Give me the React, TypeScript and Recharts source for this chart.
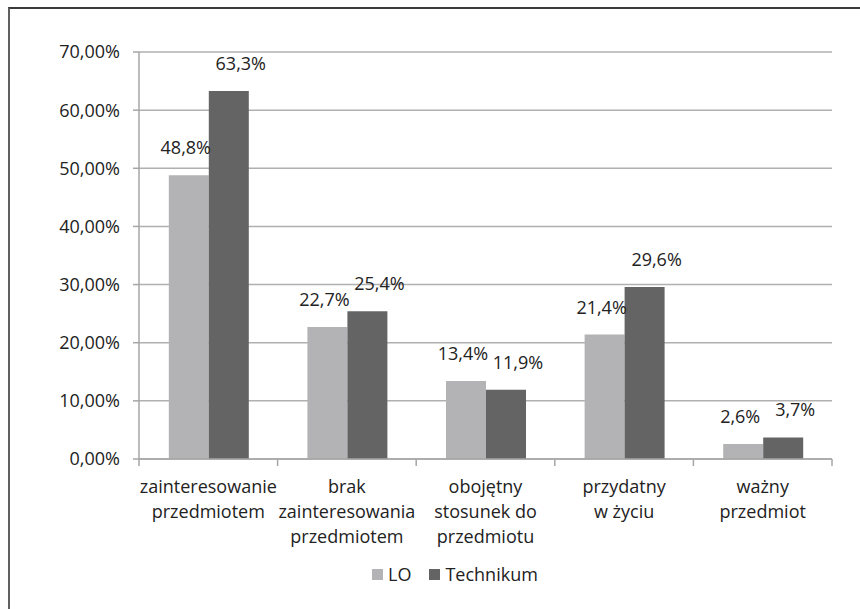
import React from 'react';
import { BarChart, Bar, XAxis, YAxis, CartesianGrid, LabelList, Legend } from 'recharts';

const categories = [
  'zainteresowanie\nprzedmiotem',
  'brak\nzainteresowania\nprzedmiotem',
  'obojętny\nstosunek do\nprzedmiotu',
  'przydatny\nw życiu',
  'ważny\nprzedmiot',
];
const loValues = [48.8, 22.7, 13.4, 21.4, 2.6];
const techValues = [63.3, 25.4, 11.9, 29.6, 3.7];
const seriesNames = ['LO', 'Technikum'];
const yTicks = [0, 10, 20, 30, 40, 50, 60, 70];

const data = categories.map((c, i) => ({
  category: c,
  [seriesNames[0]]: loValues[i],
  [seriesNames[1]]: techValues[i],
}));

const FONT = '"Open Sans", sans-serif';
const TEXT = '#222222';
const AXIS = '#a6a6a6';
const COLORS = ['#b3b3b5', '#646464'];

const fmtTick = (v: number) => v.toFixed(2).replace('.', ',') + '%';
const fmtVal = (v: number) => v.toFixed(1).replace('.', ',') + '%';

const CategoryTick = (props: any) => {
  const { x, y, payload, index, visibleTicksCount } = props;
  const lines = String(payload.value).split('\n');
  const half = payload.offset ?? 69;
  const last = index === visibleTicksCount - 1;
  return (
    <g>
      <line x1={x - half} x2={x - half} y1={y} y2={y + 7} stroke={AXIS} strokeWidth={1.5} />
      {last && <line x1={x + half} x2={x + half} y1={y} y2={y + 7} stroke={AXIS} strokeWidth={1.5} />}
      <text x={x} y={y + 34} textAnchor="middle" fill={TEXT} fontSize={18} fontFamily={FONT}>
        {lines.map((l, i) => (
          <tspan key={i} x={x} dy={i === 0 ? 0 : 25}>
            {l}
          </tspan>
        ))}
      </text>
    </g>
  );
};

const makeLabel = (dx: number) => (props: any) => {
  const { x, y, width, value } = props;
  return (
    <text x={x + width / 2 + dx} y={y - 21} textAnchor="middle" fill={TEXT} fontSize={18} fontFamily={FONT}>
      {fmtVal(value)}
    </text>
  );
};

const LegendContent = () => (
  <div style={{ display: 'flex', alignItems: 'center', fontFamily: FONT, fontSize: 18, color: TEXT, whiteSpace: 'nowrap' }}>
    {seriesNames.map((n, i) => (
      <div key={n} style={{ display: 'flex', alignItems: 'center', marginRight: 18 }}>
        <span style={{ display: 'inline-block', width: 11, height: 11, background: COLORS[i], marginRight: 5 }} />
        <span>{n}</span>
      </div>
    ))}
  </div>
);

export default function App() {
  return (
    <div style={{ position: 'absolute', left: 0, top: 0, width: 860, height: 609, background: '#fff' }}>
      <div
        style={{
          position: 'absolute',
          left: 8,
          top: 7,
          right: 0,
          bottom: 0,
          borderTop: '2px solid #3a3a3a',
          borderLeft: '2px solid #606060',
        }}
      />
      <div style={{ position: 'absolute', left: 0, top: 0 }}>
        <BarChart
          width={860}
          height={609}
          data={data}
          margin={{ top: 52, right: 28, bottom: 0, left: 0 }}
          barCategoryGap="21.5%"
          barGap={0}
        >
          <CartesianGrid vertical={false} stroke="#b0b0b0" strokeWidth={1.5} />
          <XAxis
            dataKey="category"
            height={150}
            interval={0}
            axisLine={{ stroke: AXIS, strokeWidth: 1.5 }}
            tickLine={false}
            tickSize={0}
            tickMargin={0}
            tick={<CategoryTick />}
          />
          <YAxis
            width={139}
            domain={[0, 70]}
            ticks={yTicks}
            interval={0}
            tickFormatter={fmtTick}
            axisLine={{ stroke: AXIS, strokeWidth: 1.5 }}
            tickLine={{ stroke: AXIS, strokeWidth: 1.5 }}
            tickSize={6}
            tickMargin={13}
            tick={{ fill: TEXT, fontSize: 18, fontFamily: FONT }}
          />
          <Legend
            layout="horizontal"
            verticalAlign="middle"
            align="center"
            content={<LegendContent />}
            wrapperStyle={{ left: 372, top: 562, width: 220, height: 26 }}
          />
          <Bar dataKey={seriesNames[0]} fill={COLORS[0]} isAnimationActive={false}>
            <LabelList dataKey={seriesNames[0]} content={makeLabel(-3)} />
          </Bar>
          <Bar dataKey={seriesNames[1]} fill={COLORS[1]} isAnimationActive={false}>
            <LabelList dataKey={seriesNames[1]} content={makeLabel(12)} />
          </Bar>
        </BarChart>
      </div>
    </div>
  );
}
